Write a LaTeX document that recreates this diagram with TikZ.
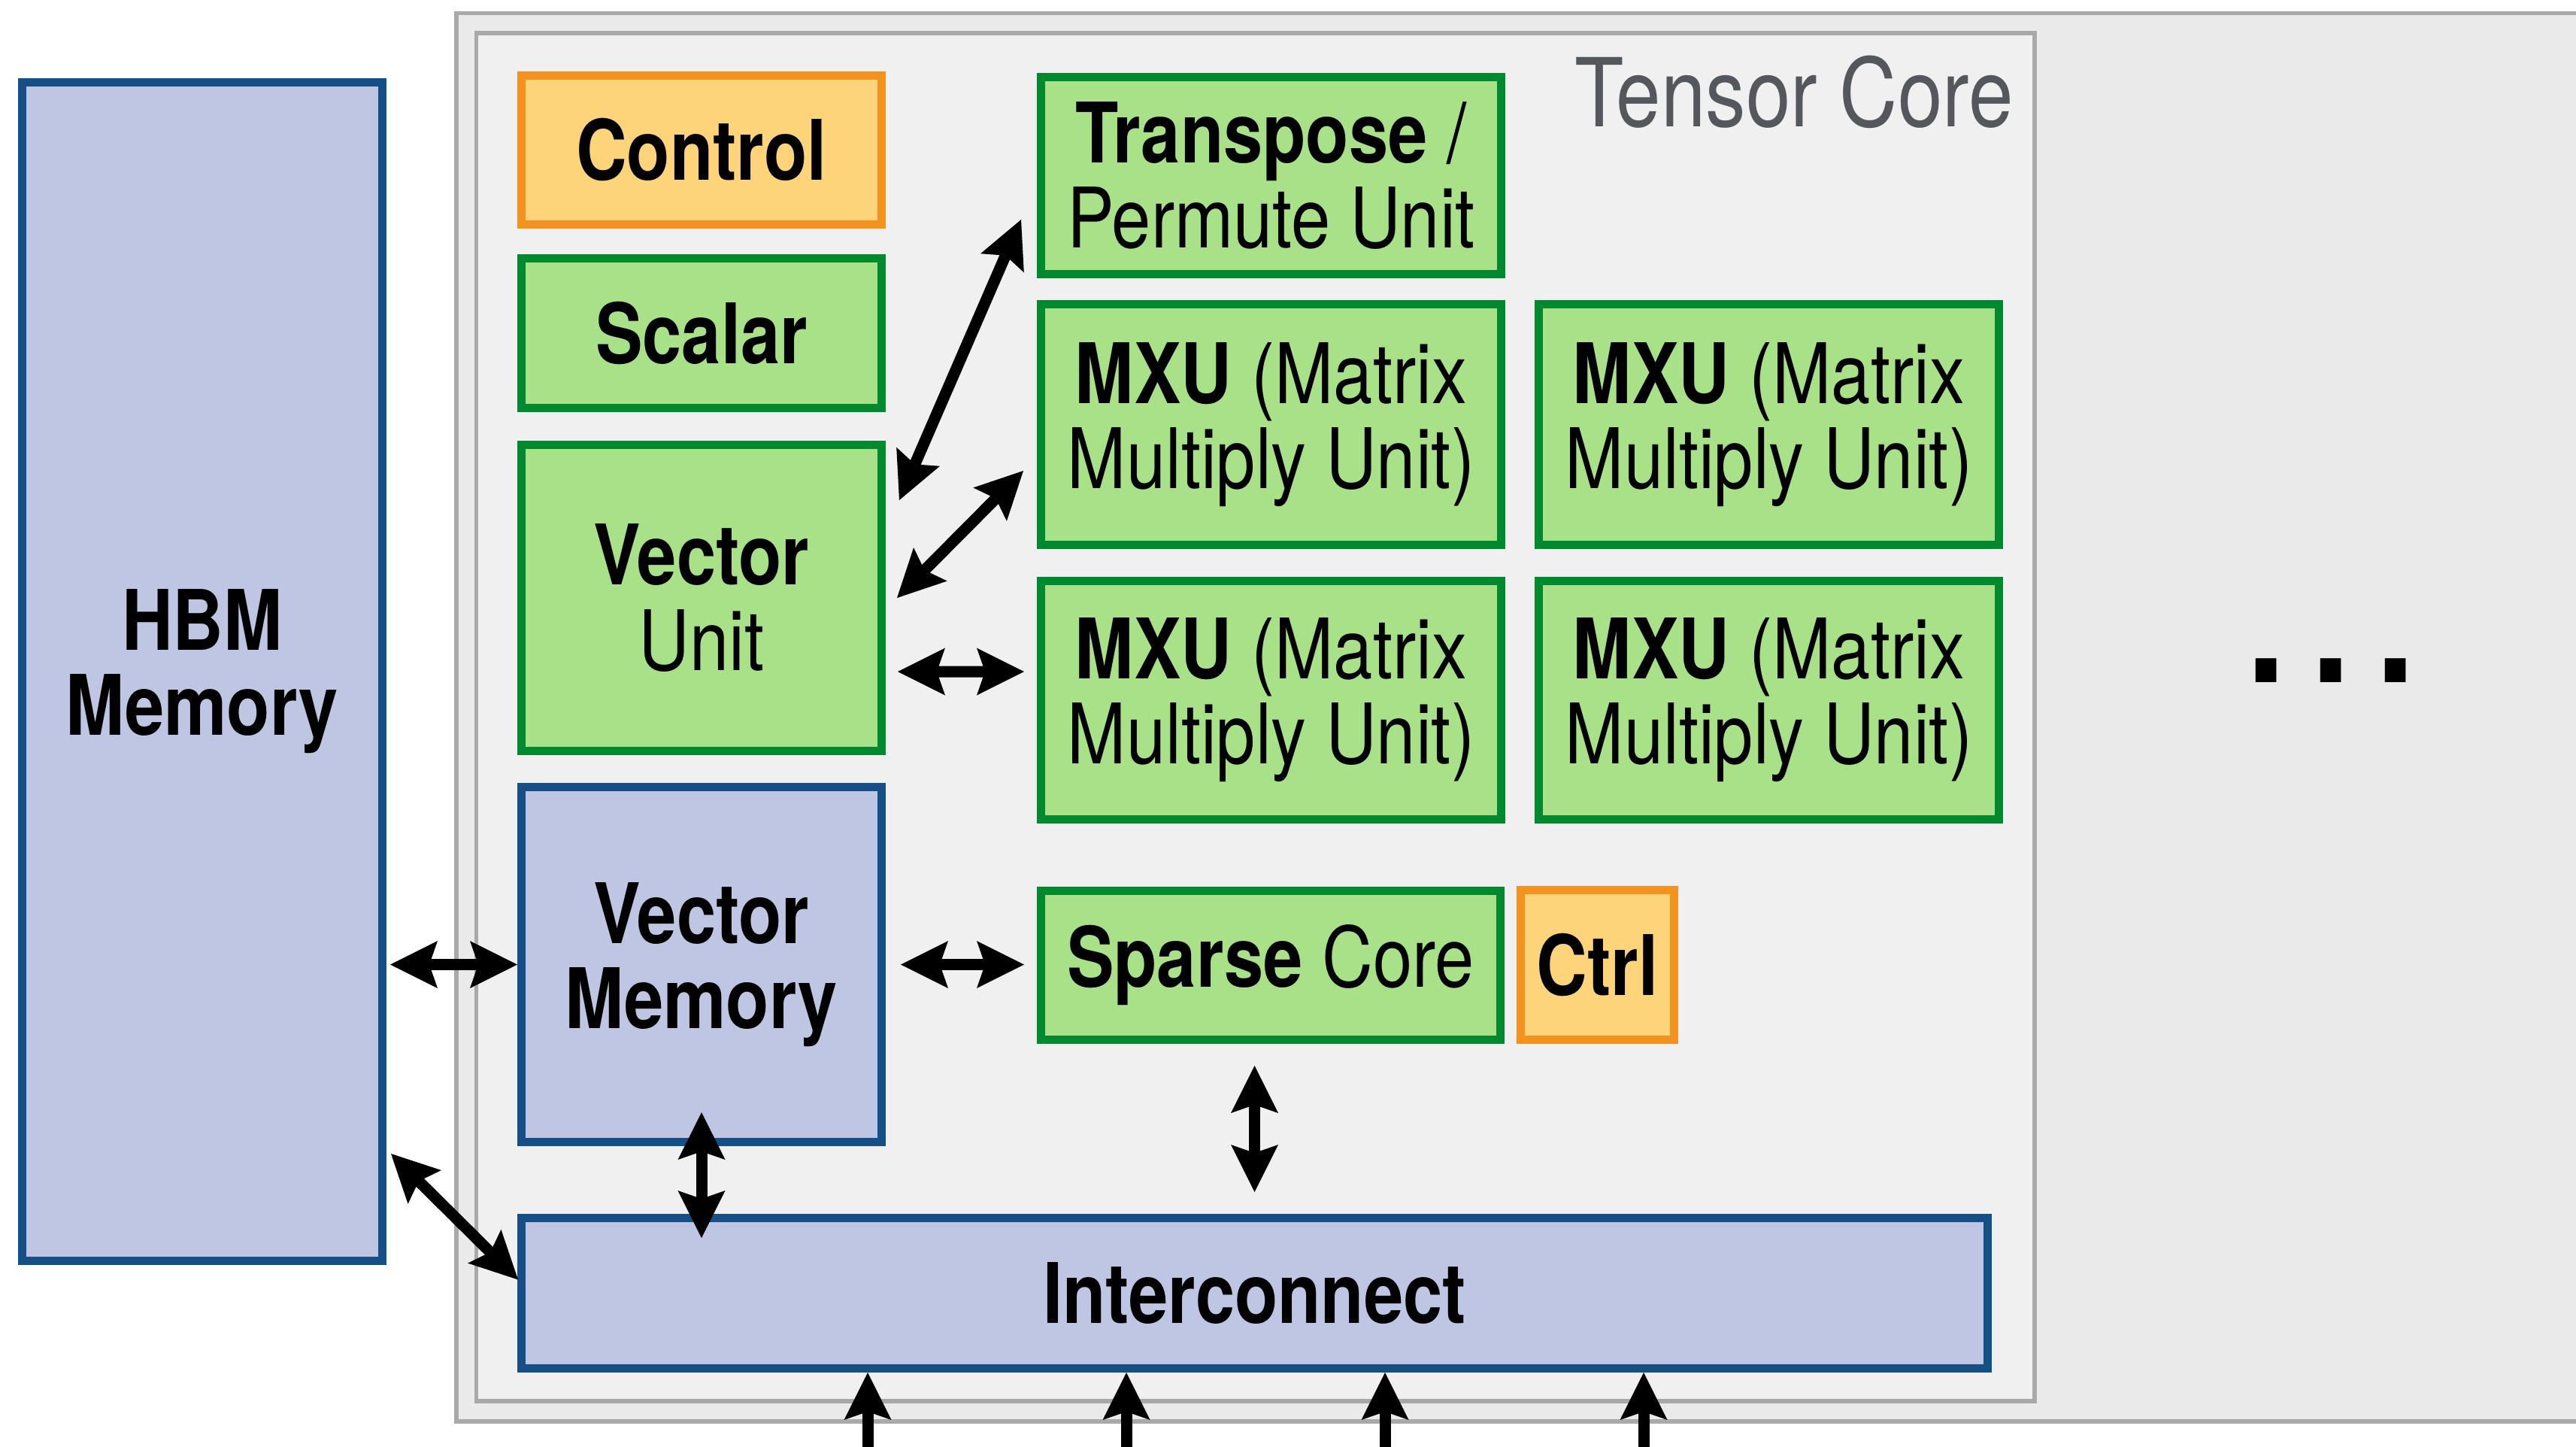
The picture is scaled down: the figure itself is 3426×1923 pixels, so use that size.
\documentclass[tikz,border=0pt]{standalone}
\usepackage{fontspec}
\setmainfont{TeX Gyre Heros}[FakeStretch=0.845]
\usepackage{tikz}
\usetikzlibrary{arrows.meta,calc}

\definecolor{unitgreen}{HTML}{A8E187}
\definecolor{unitgreenline}{HTML}{00892E}
\definecolor{ctrlorange}{HTML}{FED47B}
\definecolor{ctrlorangeline}{HTML}{F3921E}
\definecolor{memblue}{HTML}{BFC6E3}
\definecolor{memblueline}{HTML}{164F85}
\definecolor{framegray}{HTML}{A7AAA9}
\definecolor{chipfill}{HTML}{EAEAEA}
\definecolor{corefill}{HTML}{F0F0F0}
\definecolor{corelabel}{HTML}{54585D}

\newcommand{\blockfont}{\fontsize{31.6}{32.2}\selectfont}

\begin{document}
\begin{tikzpicture}[
  x=0.1mm, y=-0.1mm,
  font=\blockfont,
  blk/.style={draw, line width=1.1mm, outer sep=0.55mm, align=center, inner sep=0pt},
  unit/.style={blk, draw=unitgreenline, fill=unitgreen},
  ctl/.style={blk, draw=ctrlorangeline, fill=ctrlorange},
  mem/.style={blk, draw=memblueline, fill=memblue},
  frame/.style={draw=framegray, line width=0.55mm},
  arr/.style={{Stealth[length=6.3mm, width=6.3mm, inset=1.1mm, line width=0pt]}-{Stealth[length=6.3mm, width=6.3mm, inset=1.1mm, line width=0pt]}, line width=1.5mm},
  arrin/.style={-{Stealth[length=6.3mm, width=6.3mm, inset=1.1mm, line width=0pt]}, line width=1.5mm},
]
\useasboundingbox (0,0) rectangle (3426,1923);

% chip and tensor core frames
\filldraw[frame, fill=chipfill] (607,17.5) rectangle (3460,1890);
\filldraw[frame, fill=corefill] (633.5,44) rectangle (2706,1863);
\node[anchor=base east, text=corelabel, font=\fontsize{36}{36}\selectfont] (tclabel) at (2690,168) {Tensor Core};
\node[anchor=base, font=\fontsize{62}{62}\selectfont\bfseries] (more) at (3100,907) {.\hspace{3.5mm}.\hspace{3.5mm}.};

\node[mem, minimum width=47.9mm, minimum height=156.7mm] (hbm) at (269,893) {\textbf{HBM}\\\textbf{Memory}};

\node[ctl, minimum width=47.9mm, minimum height=19.8mm] (control) at (933,199.5) {\textbf{Control}};
\node[unit, minimum width=47.9mm, minimum height=19.9mm] (scalar) at (933,443) {\textbf{Scalar}};
\node[unit, minimum width=47.9mm, minimum height=40.7mm] (vu) at (933,795) {\textbf{Vector}\\Unit};
\node[mem, minimum width=47.9mm, minimum height=47.2mm] (vmem) at (933,1282.5) {\textbf{Vector}\\\textbf{Memory}};

\node[unit, minimum width=61.2mm, minimum height=26.2mm] (tp) at (1690.5,233.5) {\textbf{Transpose} /\\Permute Unit};
\node[unit, minimum width=61.2mm, minimum height=32.0mm] (mxu11) at (1690.5,564.5) {\textbf{MXU} (Matrix\\Multiply Unit)};
\node[unit, minimum width=61.2mm, minimum height=32.0mm] (mxu12) at (2352.5,564.5) {\textbf{MXU} (Matrix\\Multiply Unit)};
\node[unit, minimum width=61.2mm, minimum height=31.7mm] (mxu21) at (1690.5,931) {\textbf{MXU} (Matrix\\Multiply Unit)};
\node[unit, minimum width=61.2mm, minimum height=31.7mm] (mxu22) at (2352.5,931) {\textbf{MXU} (Matrix\\Multiply Unit)};

\node[unit, minimum width=61.1mm, minimum height=19.8mm] (sparse) at (1690,1283.5) {\textbf{Sparse} Core};
\node[ctl, minimum width=20.4mm, minimum height=19.9mm] (ctrl) at (2124.5,1283) {\textbf{Ctrl}};

\node[mem, minimum width=195.0mm, minimum height=20.0mm] (ic) at (1668.5,1719.5) {\textbf{Interconnect}};

\draw[arr] ($(hbm.east |- vmem.west)+(5,0)$) -- (vmem.west);
\draw[arr] ($(hbm.south east)+(6,-148)$) -- ($(ic.west)+(1,-18)$);
\draw[arr] ($(vmem.east)+(20,0)$) -- ($(sparse.west |- vmem.east)+(-17,0)$);
\draw[arr] ($(vmem.south)+(0,-45)$) -- ($(vmem.south |- ic.north)+(0,32)$);
\draw[arr] ($(ic.north |- sparse.south)+(0,29)$) -- ($(ic.north)+(0,-29)$);
\draw[arr] ($(vu.north east)+(18,79)$) -- ($(tp.south west)+(-21,-78)$);
\draw[arr] ($(vu.east)+(15,0)$) -- ($(mxu11.south west)+(-18,-104)$);
\draw[arr] ($(vu.south east)+(16,-111)$) -- ($(mxu21.north west)+(-17,126)$);

\foreach \x [count=\i] in {1154,1498,1842,2186}{
  \coordinate (link\i) at (\x,1940);
  \draw[arrin] (link\i) -- (link\i |- ic.south);
}
\end{tikzpicture}
\end{document}
